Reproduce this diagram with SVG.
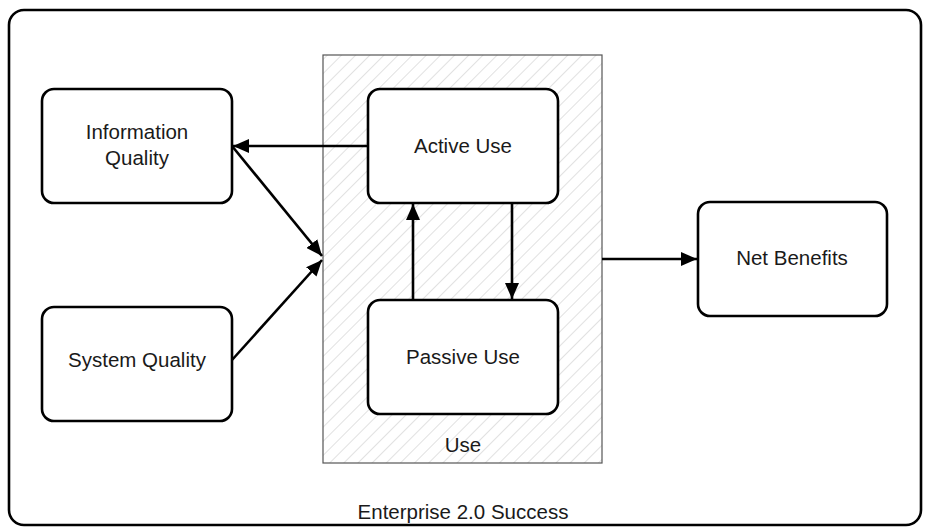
<svg xmlns="http://www.w3.org/2000/svg" width="925" height="529" viewBox="0 0 925 529">
<style>
.box{fill:#fff;stroke:#000;stroke-width:2.6}
.lbl{font-family:"Liberation Sans",Arial,sans-serif;font-size:20.5px;fill:#1a1a1a;text-anchor:middle}
.conn{stroke:#000;stroke-width:2.6;fill:none}
</style>
<defs>
<pattern id="hatch" patternUnits="userSpaceOnUse" width="10" height="10" patternTransform="rotate(45)">
<rect width="10" height="10" fill="#fff"/>
<line x1="0" y1="0" x2="0" y2="10" stroke="#d8d8d8" stroke-width="1.5"/>
</pattern>
<marker id="ah" viewBox="0 0 16 14" refX="16" refY="7" markerWidth="16" markerHeight="14" markerUnits="userSpaceOnUse" orient="auto">
<path d="M0,0 L16,7 L0,14 z" fill="#000"/>
</marker>
</defs>
<rect width="925" height="529" fill="#fff"/>
<g id="enterprise">
<rect x="9" y="10" width="912" height="515" rx="15" class="box"/>
<text x="463" y="519" class="lbl">Enterprise 2.0 Success</text>
</g>
<g id="use">
<rect x="323" y="55" width="279" height="408" fill="url(#hatch)" stroke="#555" stroke-width="1.2"/>
<text x="463" y="452" class="lbl">Use</text>
</g>
<g id="info-quality">
<rect x="42" y="89" width="190" height="114" rx="12" class="box"/>
<text x="137" y="139" class="lbl">Information</text>
<text x="137" y="165" class="lbl">Quality</text>
</g>
<g id="system-quality">
<rect x="42" y="307" width="190" height="114" rx="12" class="box"/>
<text x="137" y="367" class="lbl">System Quality</text>
</g>
<g id="active-use">
<rect x="368" y="89" width="190" height="114" rx="12" class="box"/>
<text x="463" y="153" class="lbl">Active Use</text>
</g>
<g id="passive-use">
<rect x="368" y="300" width="190" height="114" rx="12" class="box"/>
<text x="463" y="364" class="lbl">Passive Use</text>
</g>
<g id="net-benefits">
<rect x="698" y="202" width="189" height="114" rx="12" class="box"/>
<text x="792" y="265" class="lbl">Net Benefits</text>
</g>
<g id="connectors">
<line x1="368" y1="146" x2="233" y2="146" class="conn" marker-end="url(#ah)"/>
<line x1="232" y1="146" x2="322" y2="256" class="conn" marker-end="url(#ah)"/>
<line x1="232" y1="360" x2="322" y2="260" class="conn" marker-end="url(#ah)"/>
<line x1="512" y1="203" x2="512" y2="299" class="conn" marker-end="url(#ah)"/>
<line x1="413" y1="300" x2="413" y2="204" class="conn" marker-end="url(#ah)"/>
<line x1="602" y1="259" x2="697" y2="259" class="conn" marker-end="url(#ah)"/>
</g>
</svg>
